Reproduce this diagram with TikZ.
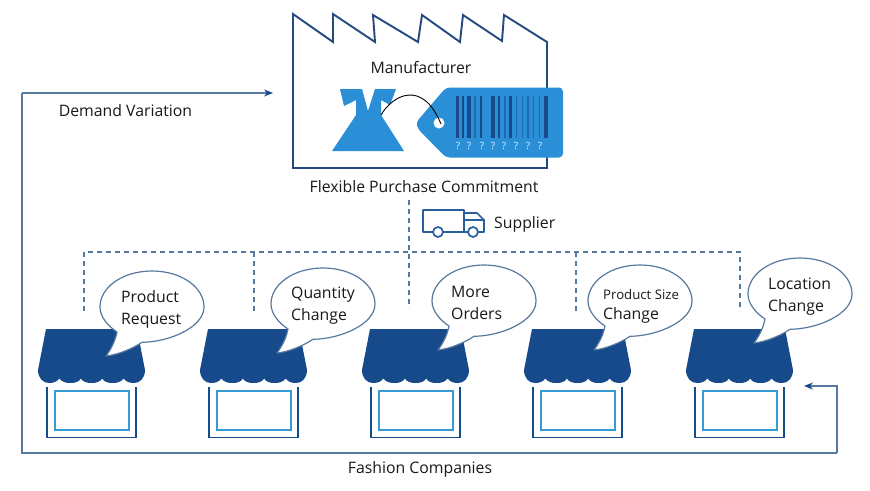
\documentclass[tikz,border=0pt]{standalone}
\usepackage{fontspec}
\setmainfont{Open Sans}
\usetikzlibrary{arrows.meta}
\definecolor{navy}{HTML}{174A8B}
\definecolor{factoryline}{HTML}{24497F}
\definecolor{midblue}{HTML}{2A8FD6}
\definecolor{lightrect}{HTML}{369CD6}
\definecolor{slateline}{HTML}{57799E}
\definecolor{truckblue}{HTML}{2A5F9E}
\definecolor{bardark}{HTML}{174A8B}
\definecolor{barmid}{HTML}{1F6BB0}
\tikzset{
  x=1pt,y=-1pt,
  label/.style={font=\fontsize{15.8}{22}\selectfont,text=black!90,inner sep=0pt,align=left},
  smalllabel/.style={font=\fontsize{13.2}{20}\selectfont,text=black!90,inner sep=0pt,align=left},
  wire/.style={draw=slateline,line width=1.4pt},
  dashwire/.style={draw=slateline,line width=1.2pt,dash pattern=on 5pt off 4pt},
  looparrow/.style={-{Stealth[length=9pt,width=7pt,color=navy]}},
  bubble/.style={draw=slateline,fill=white,line width=1.2pt,line join=round},
}
\newcommand{\drawshop}[1]{%
  \begin{scope}[shift={(#1,329)}]
    \fill[navy] (8,0) -- (99,0) -- (107,41)
      .. controls (107,49) and (102,54) .. (96.3,54)
      .. controls (92,54) and (88,53) .. (85.6,49.5)
      .. controls (83,53) and (79,54) .. (74.9,54)
      .. controls (70,54) and (66,53) .. (64.2,49.5)
      .. controls (62,53) and (58,54) .. (53.5,54)
      .. controls (49,54) and (45,53) .. (42.8,49.5)
      .. controls (41,53) and (37,54) .. (32.1,54)
      .. controls (28,54) and (24,53) .. (21.4,49.5)
      .. controls (19,53) and (15,54) .. (10.7,54)
      .. controls (5,54) and (0,49) .. (0,41) -- cycle;
    \draw[navy,line width=1.8pt] (9,58) -- (9,108.5) -- (98,108.5) -- (98,58);
    \draw[lightrect,line width=2pt] (16.5,61.5) rectangle (90.5,101);
  \end{scope}}
\newcommand{\drawbubble}[2]{%
  \draw[bubble,shift={(#1,#2)}] (-10,35.3)
    .. controls (18,35) and (52,20) .. (52,0)
    .. controls (52,-20) and (29,-36) .. (0,-36)
    .. controls (-29,-36) and (-52,-20) .. (-52,0)
    .. controls (-52,10) and (-44,19) .. (-35,25)
    .. controls (-37,35) and (-41,42) .. (-46,49)
    .. controls (-35,48) and (-20,42) .. (-10,35.3) -- cycle;}
\begin{document}
\begin{tikzpicture}
\useasboundingbox (0,0) rectangle (870,490);
\fill[white] (0,0) rectangle (870,490);

% factory
\draw[factoryline,line width=1.9pt,line join=miter]
  (293,14) -- (333,42) -- (333,14) -- (375,42) -- (373,15) -- (418,42) -- (422,15)
  -- (460,42) -- (463,15) -- (502,41) -- (504,15) -- (547,42) -- (547,168) -- (293,168) -- cycle;

% flask
\fill[midblue] (340,89) -- (362,89) -- (368,111) -- (375,89) -- (396,89) -- (390,105)
  -- (381,100) -- (381,115) -- (404,151) -- (332,151) -- (356,115) -- (356,100) -- (344,106) -- cycle;

% tag
\fill[midblue,rounded corners=4pt] (446,87.5) -- (563,87.5) -- (563,157.5) -- (446,157.5) -- (418,129) -- (416,122.5) -- cycle;
\foreach \xa/\xb/\c in {455.7/459.3/bardark,462.3/464.3/bardark,467.3/471/bardark,474.3/475.7/barmid,480/482.3/bardark,491/494.7/bardark,497.7/500/bardark,504.3/505.7/barmid,509.3/511.7/bardark,516/517/barmid,521.7/523.3/barmid,527.3/529/barmid,533.3/534.3/barmid,539.3/540.3/barmid,544/547.7/bardark}
  \fill[\c] (\xa,96) rectangle (\xb,138);
\fill[white] (439,123) circle (5.5);
\draw[black,line width=0.9pt] (381,115) .. controls (392,96) and (422,78) .. (441,124);
\foreach \i/\qx in {1/458,2/469,3/482,4/493,5/504,6/516,7/528,8/540}
  \node[font=\fontsize{10}{10}\selectfont,text=white!85!midblue,inner sep=0pt] (q\i) at (\qx,146) {?};

% truck
\draw[truckblue,line width=1.7pt,line join=round]
  (433,232) -- (423,232) -- (423,210) -- (464,210) -- (464,232) -- (443,232)
  (468,232) -- (464,232)
  (478,232) -- (484,232) -- (484,220) -- (477,213) -- (464,213)
  (464,220) -- (484,220);
\draw[truckblue,fill=white,line width=1.7pt] (438,232) circle (5);
\draw[truckblue,fill=white,line width=1.7pt] (473,232) circle (5);

% dashed tree
\coordinate (hubtop) at (409,200);
\coordinate (hub) at (409,252);
\coordinate (hubbot) at (409,308);
\coordinate (tl) at (84,252);
\coordinate (tr) at (740,252);
\coordinate (d1) at (84,311);
\coordinate (t2) at (254,252);
\coordinate (d2) at (254,311);
\coordinate (t4) at (576,252);
\coordinate (d4) at (576,311);
\coordinate (d5) at (740,311);
\draw[dashwire] (hubtop) -- (hubbot);
\draw[dashwire] (d1) -- (tl) -- (tr) -- (d5);
\draw[dashwire] (t2) -- (d2);
\draw[dashwire] (t4) -- (d4);

% shops
\drawshop{38}\drawshop{200}\drawshop{362}\drawshop{524}\drawshop{686}
\drawbubble{152}{307}
\drawbubble{323}{304}
\drawbubble{484}{301}
\drawbubble{640}{301}
\drawbubble{800}{294}

% loop
\coordinate (loopstart) at (837,386);
\coordinate (loopend) at (804,386);
\coordinate (loopbr) at (837,453);
\coordinate (loopbl) at (22,453);
\coordinate (looptl) at (22,93);
\coordinate (looptip) at (273,93);
\draw[wire,looparrow] (looptl) -- (looptip);
\draw[wire,looparrow] (loopbr) -- (loopstart) -- (loopend);
\draw[wire] (looptl) -- (loopbl) -- (loopbr);

% labels
\node[label] (manufacturer) at (421,67.5) {Manufacturer};
\node[label] (demand) at (125.5,110.5) {Demand Variation};
\node[label] (flexible) at (424,186.5) {Flexible Purchase Commitment};
\node[label,anchor=west] (supplier) at (494,224) {Supplier};
\node[label] (fashion) at (420,469) {Fashion Companies};
\node[label,anchor=west] (b1) at (121,309.5) {Product\\Request};
\node[label,anchor=west] (b2) at (291,306) {Quantity\\Change};
\node[label,anchor=west] (b3) at (451,302.5) {More\\Orders};
\node[smalllabel,anchor=west] (b4a) at (603,295) {Product Size};
\node[label,anchor=west] (b4b) at (603,315) {Change};
\node[label,anchor=west] (b5) at (768,296.5) {Location\\Change};
\end{tikzpicture}
\end{document}
